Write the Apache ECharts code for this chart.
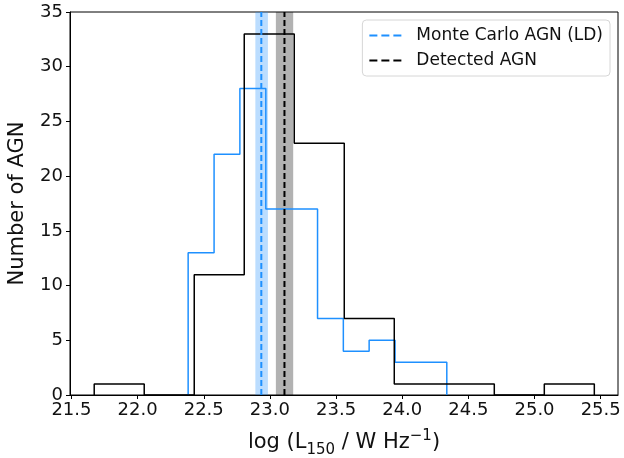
<!DOCTYPE html>
<html>
<head>
<meta charset="utf-8">
<script src="https://cdn.jsdelivr.net/npm/echarts@6/dist/echarts.min.js"></script>
<style>html,body{margin:0;padding:0;background:#fff;}#c{width:624px;height:458px;}</style>
</head>
<body>
<div id="c"></div>
<script>
// Detected AGN histogram
const detEdges = [21.672, 22.050, 22.428, 22.806, 23.184, 23.562, 23.940, 24.318, 24.696, 25.074, 25.452];
const detCounts = [1, 0, 11, 33, 23, 7, 1, 1, 0, 1];
// Monte Carlo AGN (LD) histogram
const mcEdges = [22.382, 22.578, 22.773, 22.969, 23.164, 23.360, 23.555, 23.750, 23.946, 24.141, 24.337];
const mcCounts = [13, 22, 28, 17, 17, 7, 4, 5, 3, 3];
// medians and uncertainty bands
const mcMedian = 22.935, mcBand = [22.89, 22.985];
const detMedian = 23.11, detBand = [23.045, 23.176];
const xTicks = [21.5, 22.0, 22.5, 23.0, 23.5, 24.0, 24.5, 25.0, 25.5];
const yTicks = [0, 5, 10, 15, 20, 25, 30, 35];

function stepPath(edges, counts) {
  const pts = [[edges[0], 0]];
  for (let i = 0; i < counts.length; i++) {
    pts.push([edges[i], counts[i]]);
    pts.push([edges[i + 1], counts[i]]);
  }
  pts.push([edges[edges.length - 1], 0]);
  return pts;
}

const F = 'DejaVu Sans';
const dashIcon = 'path://M0,0h8v2h-8z M12,0h8v2h-8z M24,0h8v2h-8z';
const chart = echarts.init(document.getElementById('c'), null, {renderer: 'canvas'});
chart.setOption({
  animation: false,
  grid: {left: 70, right: 6, top: 12, bottom: 63, outerBoundsMode: 'none', containLabel: false,
    show: true, borderColor: '#000', borderWidth: 1, backgroundColor: 'transparent'},
  legend: {
    right: 14, top: 20, orient: 'vertical',
    data: [
      {name: 'Monte Carlo AGN (LD)', icon: dashIcon, itemStyle: {color: '#1e90ff'}},
      {name: 'Detected AGN', icon: dashIcon, itemStyle: {color: '#000'}}
    ],
    itemWidth: 34, itemHeight: 2, itemGap: 6,
    padding: [6, 7, 6, 7],
    borderColor: '#d6d6d6', borderWidth: 1, borderRadius: 4, backgroundColor: '#fff',
    textStyle: {fontFamily: F, fontSize: 17, color: '#111', padding: [0, 0, 0, 9], lineHeight: 19}
  },
  xAxis: {
    type: 'value', min: 21.489, max: 25.631,
    axisLine: {show: true, onZero: false, lineStyle: {color: '#000', width: 1}},
    axisTick: {show: true, length: 4, lineStyle: {color: '#000'}, customValues: xTicks},
    axisLabel: {fontFamily: F, fontSize: 18, color: '#111', margin: 6, customValues: xTicks,
      formatter: v => v.toFixed(1)},
    splitLine: {show: false},
    name: '{a|log (L}{s|150}{a| / W Hz}{p|−1}{a|)}',
    nameLocation: 'middle', nameGap: 34,
    nameTextStyle: {
      rich: {
        a: {fontFamily: F, fontSize: 21, color: '#111', lineHeight: 24, verticalAlign: 'bottom'},
        s: {fontFamily: F, fontSize: 15, color: '#111', lineHeight: 24, padding: [0, 0, -5, 0], verticalAlign: 'bottom'},
        p: {fontFamily: F, fontSize: 15, color: '#111', lineHeight: 24, padding: [0, 0, 9, 0], verticalAlign: 'bottom'}
      }
    }
  },
  yAxis: {
    type: 'value', min: 0, max: 35, interval: 5,
    axisLine: {show: true, lineStyle: {color: '#000', width: 1}},
    axisTick: {show: true, length: 4, lineStyle: {color: '#000'}},
    axisLabel: {fontFamily: F, fontSize: 18, color: '#111', margin: 7},
    splitLine: {show: false},
    name: 'Number of AGN', nameLocation: 'middle', nameGap: 42,
    nameTextStyle: {fontFamily: F, fontSize: 21, color: '#111'}
  },
  series: [
    {
      name: 'MC hist', type: 'line', data: stepPath(mcEdges, mcCounts),
      symbol: 'none', lineStyle: {color: '#1e90ff', width: 1.5}, z: 3,
      markArea: {silent: true, itemStyle: {color: 'rgba(30,144,255,0.3)'}, data: [[{xAxis: mcBand[0]}, {xAxis: mcBand[1]}]]}
    },
    {
      name: 'Det hist', type: 'line', data: stepPath(detEdges, detCounts),
      symbol: 'none', lineStyle: {color: '#000', width: 1.5}, z: 3,
      markArea: {silent: true, itemStyle: {color: 'rgba(0,0,0,0.3)'}, data: [[{xAxis: detBand[0]}, {xAxis: detBand[1]}]]}
    },
    {
      name: 'Monte Carlo AGN (LD)', type: 'line', data: [[mcMedian, 0], [mcMedian, 35]],
      symbol: 'none', color: '#1e90ff', lineStyle: {color: '#1e90ff', width: 2, type: [6, 3]}, z: 4
    },
    {
      name: 'Detected AGN', type: 'line', data: [[detMedian, 0], [detMedian, 35]],
      symbol: 'none', color: '#000', lineStyle: {color: '#000', width: 2, type: [6, 3]}, z: 4
    }
  ]
});
</script>
</body>
</html>
